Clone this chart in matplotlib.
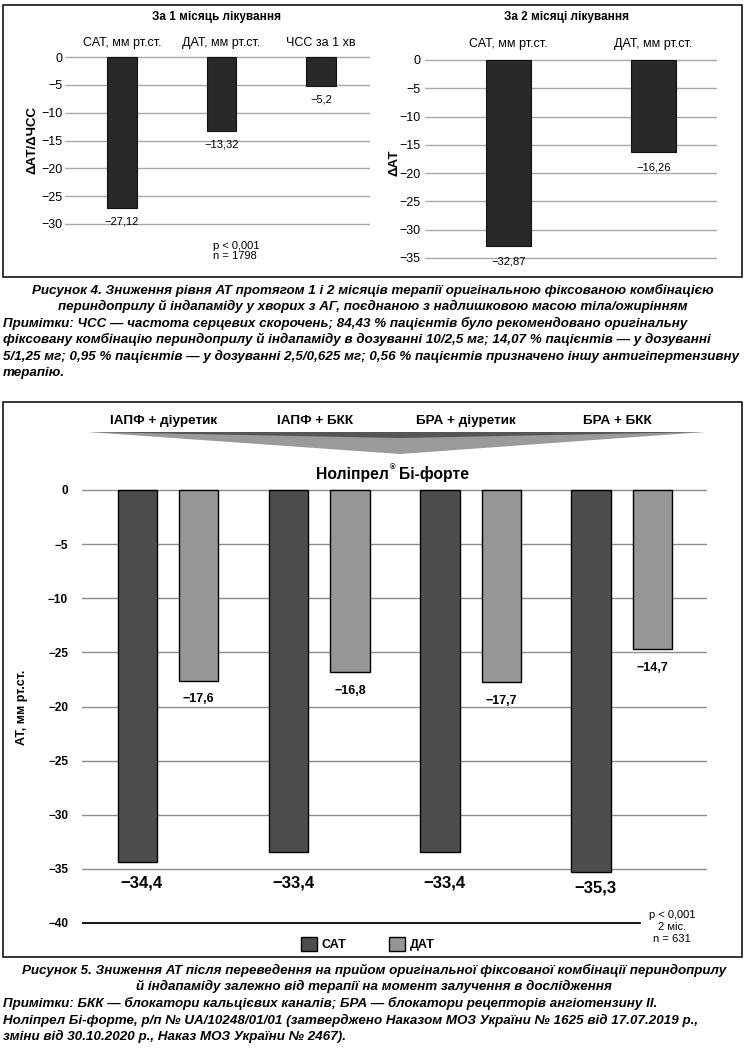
import matplotlib
matplotlib.use('Agg')
import matplotlib.pyplot as plt
from matplotlib.patches import Rectangle, Polygon
import numpy as np

plt.rcParams['font.family'] = ['Liberation Sans', 'DejaVu Sans']

# ---------------- data ----------------
m1_title = 'За 1 місяць лікування'
m1_categories = ['САТ, мм рт.ст.', 'ДАТ, мм рт.ст.', 'ЧСС за 1 хв']
m1_values = [-27.12, -13.32, -5.2]
m1_ticks = [0, -5, -10, -15, -20, -25, -30]

m2_title = 'За 2 місяці лікування'
m2_categories = ['САТ, мм рт.ст.', 'ДАТ, мм рт.ст.']
m2_values = [-32.87, -16.26]
m2_ticks = [0, -5, -10, -15, -20, -25, -30, -35]

groups = ['ІАПФ + діуретик', 'ІАПФ + БКК', 'БРА + діуретик', 'БРА + БКК']
sat_values = [-34.4, -33.4, -33.4, -35.3]
dat_values = [-17.6, -16.8, -17.7, -14.7]
bottom_ticks = [0, -5, -10, -15, -20, -25, -30, -35, -40]
bottom_tick_labels = ['0', '−5', '−10', '−25', '−20', '−25', '−30', '−35', '−40']
series_names = ['САТ', 'ДАТ']

fig4_caption = ['Рисунок 4. Зниження рівня АТ протягом 1 і 2 місяців терапії оригінальною фіксованою комбінацією',
                'периндоприлу й індапаміду у хворих з АГ, поєднаною з надлишковою масою тіла/ожирінням']
fig4_notes = ['Примітки: ЧСС — частота серцевих скорочень; 84,43 % пацієнтів було рекомендовано оригінальну',
              'фіксовану комбінацію периндоприлу й індапаміду в дозуванні 10/2,5 мг; 14,07 % пацієнтів — у дозуванні',
              '5/1,25 мг; 0,95 % пацієнтів — у дозуванні 2,5/0,625 мг; 0,56 % пацієнтів призначено іншу антигіпертензивну',
              'терапію.']
fig5_caption = ['Рисунок 5. Зниження АТ після переведення на прийом оригінальної фіксованої комбінації периндоприлу',
                'й індапаміду залежно від терапії на момент залучення в дослідження']
fig5_notes = ['Примітки: БКК — блокатори кальцієвих каналів; БРА — блокатори рецепторів ангіотензину II.',
              'Ноліпрел Бі-форте, р/п № UA/10248/01/01 (затверджено Наказом МОЗ України № 1625 від 17.07.2019 р.,',
              'зміни від 30.10.2020 р., Наказ МОЗ України № 2467).']


def fmt(v):
    s = str(v).replace('.', ',')
    return s.replace('-', '−')


def tick_fmt(t):
    return '0' if t == 0 else '−' + str(abs(int(t)))


# ---------------- figure ----------------
W, H = 747, 1048
fig = plt.figure(figsize=(W / 100, H / 100), dpi=100)


def fx(x):
    return x / W


def fy(y):
    return 1 - y / H


def make_axes(x0, x1, ya, a, yb, b, ylim):
    k = (yb - ya) / (a - b)
    ytop = ya - (ylim[1] - a) * k
    ybot = ya + (a - ylim[0]) * k
    ax = fig.add_axes([x0 / W, 1 - ybot / H, (x1 - x0) / W, (ybot - ytop) / H])
    ax.set_ylim(*ylim)
    for sp in ax.spines.values():
        sp.set_visible(False)
    ax.set_axisbelow(True)
    return ax


def frame(x0, y0, x1, y1):
    fig.add_artist(Rectangle((fx(x0), fy(y1)), (x1 - x0) / W, (y1 - y0) / H, fill=False,
                             lw=1.1, ec='black', transform=fig.transFigure))


# ---- top box ----
frame(3, 5, 742, 277)

# top-left chart
ax1 = make_axes(65, 370, 57, 0, 224, -30, (-31, 1))
s1, c1 = 99.5, 122
ax1.set_xlim((65 - c1) / s1, (370 - c1) / s1)
x1 = np.arange(len(m1_values))
ax1.bar(x1, m1_values, width=0.30, color='#292929', edgecolor='#111111', lw=0.8, zorder=3)
ax1.set_yticks(m1_ticks, [tick_fmt(t) for t in m1_ticks])
ax1.yaxis.grid(True, color='#a8a8a8', lw=1)
ax1.set_xticks(x1, m1_categories)
ax1.xaxis.set_ticks_position('top')
ax1.tick_params(axis='x', length=0, pad=1.8, labelsize=9)
ax1.tick_params(axis='y', length=0, pad=2, labelsize=9)
for xi, v in zip(x1, m1_values):
    ax1.text(xi, v - 2.4, fmt(v), ha='center', va='center', fontsize=8)
fig.text(fx(217), fy(17), m1_title, ha='center', va='center', fontsize=8.5, fontweight='bold')
fig.text(fx(33), fy(140), 'ΔАТ/ΔЧСС', rotation=90, ha='center', va='center', fontsize=9.5, fontweight='bold')
fig.text(fx(213), fy(251), 'p < 0,001\nn = 1798', ha='left', va='center', fontsize=8, linespacing=0.95)

# top-right chart
ax2 = make_axes(425, 717, 60, 0, 258, -35, (-36, 1))
s2, c2 = 145, 508.5
ax2.set_xlim((425 - c2) / s2, (717 - c2) / s2)
x2 = np.arange(len(m2_values))
ax2.bar(x2, m2_values, width=0.31, color='#292929', edgecolor='#111111', lw=0.8, zorder=3)
ax2.set_yticks(m2_ticks, [tick_fmt(t) for t in m2_ticks])
ax2.yaxis.grid(True, color='#a8a8a8', lw=1)
ax2.set_xticks(x2, m2_categories)
ax2.xaxis.set_ticks_position('top')
ax2.tick_params(axis='x', length=0, pad=3, labelsize=9)
ax2.tick_params(axis='y', length=0, pad=3, labelsize=9)
for xi, v in zip(x2, m2_values):
    ax2.text(xi, v - 2.8, fmt(v), ha='center', va='center', fontsize=8)
fig.text(fx(567), fy(17), m2_title, ha='center', va='center', fontsize=8.5, fontweight='bold')
fig.text(fx(395), fy(163), 'ΔАТ', rotation=90, ha='center', va='center', fontsize=9.5, fontweight='bold')

# ---- captions for figure 4 ----
cap_kw = dict(fontsize=9.6, fontweight='bold', fontstyle='italic')
for i, line in enumerate(fig4_caption):
    fig.text(fx(373), fy(290 + 16.5 * i), line, ha='center', va='center', **cap_kw)
for i, line in enumerate(fig4_notes):
    fig.text(fx(3), fy(323 + 16.5 * i), line, ha='left', va='center', **cap_kw)

# ---- bottom box ----
frame(3, 402, 742, 957)
ax3 = make_axes(82, 707, 490, 0, 923, -40, (-41, 1))
s3, c3 = 151.3, 168
ax3.set_xlim((82 - c3) / s3, (707 - c3) / s3)
xg = np.arange(len(groups))
off, bw = 0.203, 0.261
b_sat = ax3.bar(xg - off, sat_values, width=bw, color='#4d4d4d', edgecolor='black', lw=1, zorder=3)
b_dat = ax3.bar(xg + off, dat_values, width=bw, color='#969696', edgecolor='black', lw=1, zorder=3)
for t in bottom_ticks:
    if t == bottom_ticks[-1]:
        ax3.axhline(t, xmin=0, xmax=(640 - 82) / (707 - 82), color='black', lw=1.3, zorder=1)
    else:
        ax3.axhline(t, color='#8c8c8c', lw=1, zorder=1)
ax3.set_yticks(bottom_ticks, bottom_tick_labels)
ax3.tick_params(axis='y', length=0, pad=10, labelsize=8.5)
for lab in ax3.get_yticklabels():
    lab.set_fontweight('bold')
ax3.set_xticks([])
for xi, v in zip(xg, sat_values):
    ax3.text(xi - off + 0.03, min(v, -34.8) - 1.5, fmt(v), ha='center', va='center',
             fontsize=12, fontweight='bold')
for xi, v in zip(xg, dat_values):
    ax3.text(xi + off, v - 1.75, fmt(v), ha='center', va='center', fontsize=9, fontweight='bold')
for xi, g in zip(xg, groups):
    ax3.text(xi - 0.03, (490 - 421) / 10.825, g, ha='center', va='center', fontsize=9.7,
             fontweight='bold', clip_on=False)

# funnel arrow
outer = [(fx(88), fy(432)), (fx(705), fy(432)), (fx(400), fy(454))]
inner = [(fx(88), fy(432)), (fx(705), fy(432)), (fx(400), fy(438))]
fig.add_artist(Polygon(outer, closed=True, fc='#9a9a9a', ec='none', transform=fig.transFigure))
fig.add_artist(Polygon(inner, closed=True, fc='#555555', ec='none', transform=fig.transFigure))

# product name
fig.text(fx(389), fy(474), 'Ноліпрел', ha='right', va='center', fontsize=11.3, fontweight='bold')
fig.text(fx(389.5), fy(468), '®', ha='left', va='center', fontsize=5.5, fontweight='bold')
fig.text(fx(399), fy(474), 'Бі-форте', ha='left', va='center', fontsize=11.3, fontweight='bold')

fig.text(fx(22), fy(707), 'АТ, мм рт.ст.', rotation=90, ha='center', va='center', fontsize=9, fontweight='bold')

fig.legend(handles=[b_sat, b_dat], labels=series_names, ncol=2, loc='center left',
           bbox_to_anchor=(fx(301), fy(944)), frameon=False, handlelength=1.28, handleheight=1.28,
           handletextpad=0.4, columnspacing=3.4, borderpad=0, borderaxespad=0,
           prop={'weight': 'bold', 'size': 9})
fig.text(fx(672), fy(927), 'p < 0,001\n2 міс.\nn = 631', ha='center', va='center', fontsize=8,
         linespacing=1.2)

# ---- captions for figure 5 ----
for i, line in enumerate(fig5_caption):
    fig.text(fx(374), fy(970 + 16.5 * i), line, ha='center', va='center', **cap_kw)
for i, line in enumerate(fig5_notes):
    fig.text(fx(3), fy(1003.5 + 16.5 * i), line, ha='left', va='center', **cap_kw)

fig.savefig('out.png', dpi=100, facecolor='white')
